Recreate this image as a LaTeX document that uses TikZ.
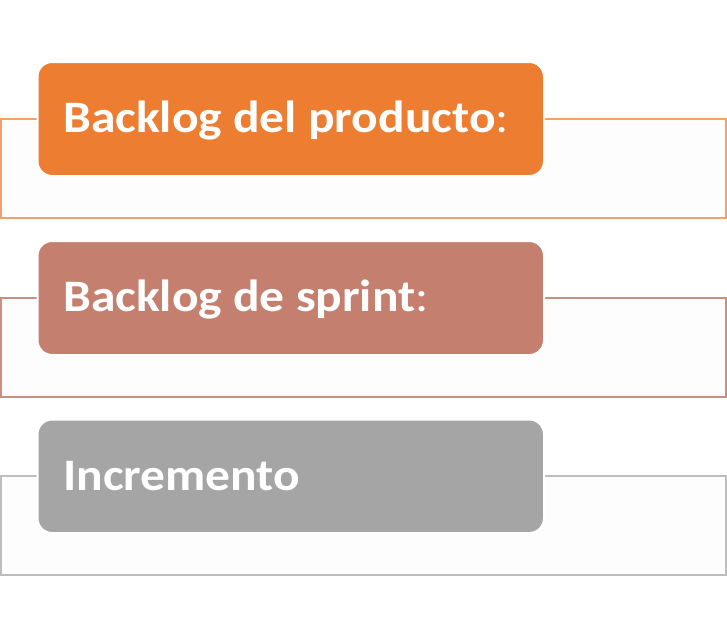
\documentclass[tikz,border=0pt]{standalone}
\usepackage{fontspec}
\setmainfont{Carlito}
\definecolor{c1}{HTML}{ED7D31}
\definecolor{c1l}{HTML}{F4A06A}
\definecolor{c2}{HTML}{C47F6E}
\definecolor{c2l}{HTML}{CC8E7E}
\definecolor{c3}{HTML}{A5A5A5}
\definecolor{c3l}{HTML}{BDBDBD}
\definecolor{panelfill}{HTML}{FDFDFD}
\tikzset{
  panel/.style={draw=#1, fill=panelfill, line width=1pt},
  headbox/.style={fill=#1, draw=white, line width=1.5pt, rounded corners=11pt},
  headtext/.style={anchor=base west, inner sep=0pt, text=white, font=\fontsize{33.75pt}{40pt}\selectfont}
}
\newcommand{\wide}[1]{\scalebox{1.1}[1]{#1}}
\begin{document}
\begin{tikzpicture}[x=0.75pt,y=-0.75pt]
\useasboundingbox (0,0) rectangle (727,637);
% group 1
\path[panel=c1l] (1,119) rectangle (726,218);
\path[headbox=c1] (37.5,62) rectangle (544,176);
\node[headtext] (t1) at (63,132) {\wide{\textbf{Backlog del producto}:}};
% group 2
\path[panel=c2l] (1,298) rectangle (726,397);
\path[headbox=c2] (37.5,241) rectangle (544,355);
\node[headtext] (t2) at (63,311) {\wide{\textbf{Backlog de sprint}:}};
% group 3
\path[panel=c3l] (1,476) rectangle (726,575);
\path[headbox=c3] (37.5,419.5) rectangle (544,533);
\node[headtext] (t3) at (63,490) {\wide{\textbf{Incremento}}};
\end{tikzpicture}
\end{document}
